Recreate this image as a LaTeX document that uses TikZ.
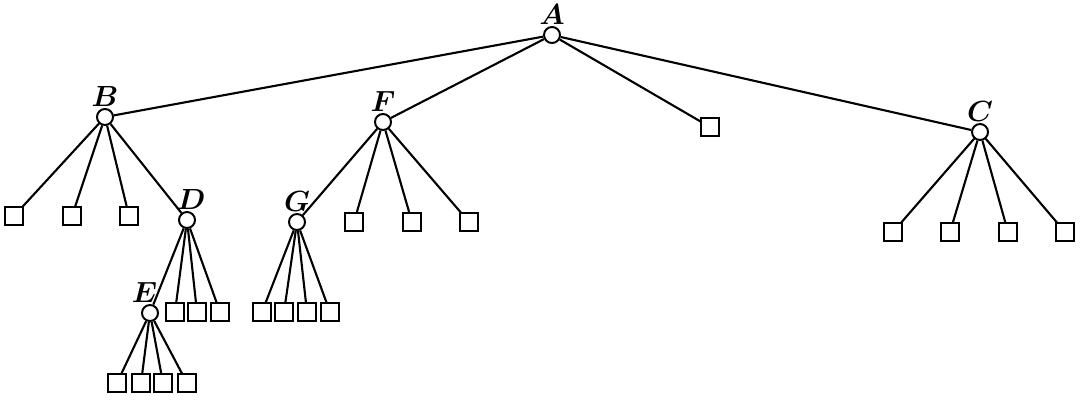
\documentclass[tikz,border=0pt]{standalone}
\begin{document}
\begin{tikzpicture}[x=0.025cm, y=-0.025cm,
    inner/.style={draw, circle, fill=white, line width=1.4pt, minimum size=0.4cm, inner sep=0pt},
    leaf/.style={draw, rectangle, fill=white, line width=1.4pt, minimum size=0.43cm, inner sep=0pt},
    edge/.style={line width=1.5pt},
    lbl/.style={font=\fontsize{20}{20}\selectfont\boldmath, inner sep=0pt, label distance=1pt}]

    % Frame of the picture
    \useasboundingbox (0,0) rectangle (1080,402);

    % Inner nodes
    \node[inner, label={[lbl]above:$A$}] (A) at (552,35) {};
    \node[inner, label={[lbl]above:$B$}] (B) at (105,117) {};
    \node[inner, label={[lbl]above:$F$}] (F) at (383,122) {};
    \node[inner, label={[lbl]above:$C$}] (C) at (980,132) {};
    \node[inner, label={[lbl, xshift=3pt]above:$D$}] (D) at (187,220) {};
    \node[inner, label={[lbl]above:$G$}] (G) at (297,222) {};
    \node[inner, label={[lbl, xshift=-4pt]above:$E$}] (E) at (150,313) {};

    % Leaves
    \node[leaf] (a1) at (710,127) {};
    \foreach \x [count=\i] in {14,72,129}
        \node[leaf] (b\i) at (\x,216) {};
    \foreach \x [count=\i] in {175,197,220}
        \node[leaf] (d\i) at (\x,312) {};
    \foreach \x [count=\i] in {117,141,163,187}
        \node[leaf] (e\i) at (\x,383) {};
    \foreach \x [count=\i] in {354,412,469}
        \node[leaf] (f\i) at (\x,222) {};
    \foreach \x [count=\i] in {262,284,307,330}
        \node[leaf] (g\i) at (\x,312) {};
    \foreach \x [count=\i] in {893,950,1008,1065}
        \node[leaf] (c\i) at (\x,232) {};

    % Edges
    \foreach \c in {B,F,a1,C}
        \draw[edge] (A) -- (\c);
    \foreach \c in {b1,b2,b3,D}
        \draw[edge] (B) -- (\c);
    \foreach \c in {E,d1,d2,d3}
        \draw[edge] (D) -- (\c);
    \foreach \c in {e1,e2,e3,e4}
        \draw[edge] (E) -- (\c);
    \foreach \c in {G,f1,f2,f3}
        \draw[edge] (F) -- (\c);
    \foreach \c in {g1,g2,g3,g4}
        \draw[edge] (G) -- (\c);
    \foreach \c in {c1,c2,c3,c4}
        \draw[edge] (C) -- (\c);

\end{tikzpicture}
\end{document}
